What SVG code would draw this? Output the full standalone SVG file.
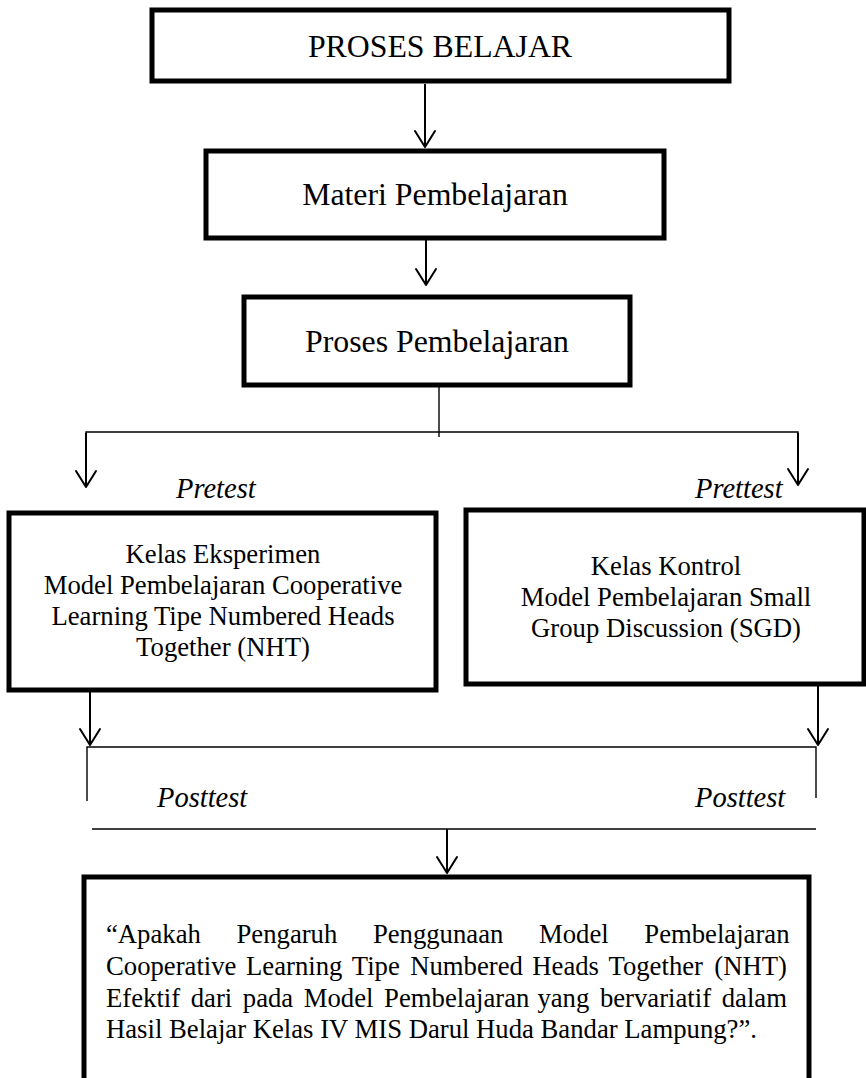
<svg xmlns="http://www.w3.org/2000/svg" width="866" height="1078" viewBox="0 0 866 1078">
<style>
.box{fill:#fff;stroke:#000;stroke-width:5;stroke-linejoin:miter}
.t{font-family:"Liberation Serif","Times New Roman",serif;fill:#000}
.big{font-size:31.8px;text-anchor:middle}
.mid{font-size:26.7px;text-anchor:middle}
.body{font-size:26.7px}
.lab{font-size:28.5px;font-style:italic}
.ar{fill:none;stroke:#000;stroke-width:2}
.ln{fill:none;stroke:#000;stroke-width:1.4}
</style>
<defs>
<marker id="ah" markerUnits="userSpaceOnUse" markerWidth="30" markerHeight="30" viewBox="-20 -15 30 30" refX="0" refY="0" orient="auto" overflow="visible">
<path d="M-16,-10 L0,0 L-16,10" fill="none" stroke="#000" stroke-width="2" stroke-linejoin="round" stroke-linecap="round"/>
</marker>
</defs>
<rect width="866" height="1078" fill="#fff"/>
<g id="connectors">
<line class="ar" x1="425" y1="84" x2="425" y2="147" marker-end="url(#ah)"/>
<line class="ar" x1="426" y1="232" x2="426" y2="285" marker-end="url(#ah)"/>
<line class="ln" x1="439" y1="378" x2="439" y2="437"/>
<polyline class="ln" points="86,487 86,432 798,432 798,485"/>
<line class="ar" x1="86" y1="433" x2="86" y2="487" marker-end="url(#ah)"/>
<line class="ar" x1="798" y1="433" x2="798" y2="485" marker-end="url(#ah)"/>
<line class="ar" x1="90" y1="692" x2="90" y2="745" marker-end="url(#ah)"/>
<line class="ar" x1="818" y1="686" x2="818" y2="745" marker-end="url(#ah)"/>
<polyline class="ln" points="87,801 87,747 816,747 816,798"/>
<line class="ln" x1="92" y1="829" x2="816" y2="829"/>
<line class="ar" x1="447" y1="829" x2="447" y2="873" marker-end="url(#ah)"/>
</g>
<g id="node-proses-belajar">
<rect class="box" x="152" y="10" width="577" height="71"/>
<text class="t big" x="440" y="57">PROSES BELAJAR</text>
</g>
<g id="node-materi">
<rect class="box" x="206" y="151" width="458" height="87"/>
<text class="t big" x="435" y="205">Materi Pembelajaran</text>
</g>
<g id="node-proses-pembelajaran">
<rect class="box" x="244" y="297" width="386" height="88"/>
<text class="t big" x="437" y="352">Proses Pembelajaran</text>
</g>
<g id="labels-pretest">
<text class="t lab" x="176" y="498">Pretest</text>
<text class="t lab" x="695" y="498">Prettest</text>
</g>
<g id="node-eksperimen">
<rect class="box" x="9" y="513" width="427" height="177"/>
<text class="t mid" x="223" y="563">Kelas Eksperimen</text>
<text class="t mid" x="223" y="594">Model Pembelajaran Cooperative</text>
<text class="t mid" x="223" y="625">Learning Tipe Numbered Heads</text>
<text class="t mid" x="223" y="656">Together (NHT)</text>
</g>
<g id="node-kontrol">
<rect class="box" x="466" y="510" width="398" height="174"/>
<text class="t mid" x="666" y="575">Kelas Kontrol</text>
<text class="t mid" x="666" y="606">Model Pembelajaran Small</text>
<text class="t mid" x="666" y="637">Group Discussion (SGD)</text>
</g>
<g id="labels-posttest">
<text class="t lab" x="157" y="807">Posttest</text>
<text class="t lab" x="695" y="807">Posttest</text>
</g>
<g id="node-hasil">
<rect class="box" x="84" y="877" width="725" height="230"/>
<text class="t body" y="943"><tspan x="106">“Apakah</tspan><tspan x="236.5">Pengaruh</tspan><tspan x="372.9">Penggunaan</tspan><tspan x="539">Model</tspan><tspan x="644.3">Pembelajaran</tspan></text>
<text class="t body" y="975"><tspan x="106">Cooperative</tspan><tspan x="246">Learning</tspan><tspan x="351.8">Tipe</tspan><tspan x="410.2">Numbered</tspan><tspan x="532.3">Heads</tspan><tspan x="608.5">Together</tspan><tspan x="714.3">(NHT)</tspan></text>
<text class="t body" y="1007"><tspan x="106">Efektif</tspan><tspan x="190.7">dari</tspan><tspan x="242.8">pada</tspan><tspan x="303.8">Model</tspan><tspan x="384.1">Pembelajaran</tspan><tspan x="537.4">yang</tspan><tspan x="599.9">bervariatif</tspan><tspan x="721.7">dalam</tspan></text>
<text class="t body" x="106" y="1038">Hasil Belajar Kelas IV MIS Darul Huda Bandar Lampung?”.</text>
</g>
</svg>
